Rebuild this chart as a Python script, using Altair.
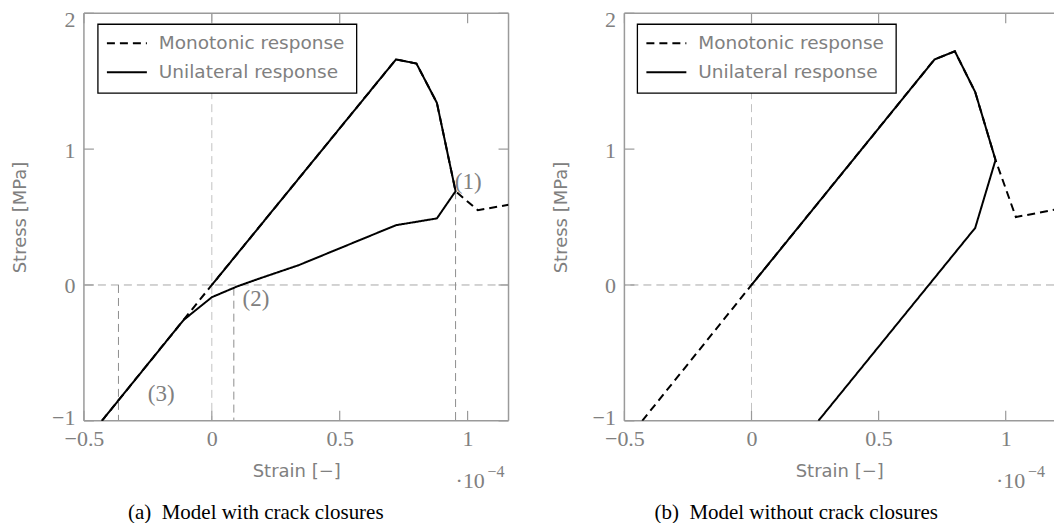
import altair as alt
import pandas as pd

# ---------------- data ----------------
series_names = ["Monotonic response", "Unilateral response"]

# panel (a): model with crack closures
a_mono_x = [-0.43, 0.0, 0.72, 0.80, 0.88, 0.953, 1.04, 1.16]
a_mono_y = [-1.0, 0.0, 1.66, 1.63, 1.34, 0.69, 0.55, 0.59]
a_uni_x = [0.0, 0.72, 0.80, 0.88, 0.953, 0.88, 0.72, 0.34, 0.19, 0.10, 0.0, -0.11, -0.43]
a_uni_y = [0.0, 1.66, 1.63, 1.34, 0.69, 0.49, 0.44, 0.146, 0.05, -0.01, -0.09, -0.257, -1.0]
a_guide_x = [-0.365, 0.086, 0.953]
a_guide_top = [0.0, -0.02, 0.69]
a_note_x = [0.95, 0.12, -0.25]
a_note_y = [0.76, -0.10, -0.80]
a_note_text = ["(1)", "(2)", "(3)"]

# panel (b): model without crack closures
b_mono_x = [-0.43, 0.0, 0.72, 0.80, 0.88, 0.96, 1.04, 1.19]
b_mono_y = [-1.0, 0.0, 1.66, 1.72, 1.42, 0.92, 0.50, 0.553]
b_uni_x = [0.0, 0.72, 0.80, 0.88, 0.96, 0.88, 0.263]
b_uni_y = [0.0, 1.66, 1.72, 1.42, 0.92, 0.42, -1.0]

x_ticks = [-0.5, 0, 0.5, 1]
y_ticks = [-1, 0, 1, 2]
x_title = "Strain [−]"
y_title = "Stress [MPa]"
exp_base = "·10"
exp_power = "−4"
caption_a = "(a)\u2002Model with crack closures"
caption_b = "(b)\u2002Model without crack closures"

# ---------------- styling ----------------
H = 408
SERIF = "Liberation Serif"
SANS = "DejaVu Sans"
GRAY = "#808080"
FRAME = "#9a9a9a"

X_AXIS = alt.Axis(
    values=x_ticks, format="~g", ticks=False, domain=False, grid=False,
    labelFlush=False, labelFont=SERIF, labelFontSize=22, labelColor=GRAY,
    labelPadding=8,
    title=x_title, titleFont=SANS, titleFontSize=18, titleColor=GRAY,
    titleFontWeight="normal", titleY=51, titleBaseline="middle")
Y_AXIS = alt.Axis(
    values=y_ticks, format="~g", ticks=False, domain=False, grid=False,
    labelFlush=False, labelFont=SERIF, labelFontSize=22, labelColor=GRAY,
    labelPadding=9,
    labelOffset={"expr": "datum.value == 2 ? 6 : (datum.value == -1 ? -3 : 1)"},
    title=y_title, titleFont=SANS, titleFontSize=18, titleColor=GRAY,
    titleFontWeight="normal", titleX=-63, titleY=H / 2, titleBaseline="middle")


def panel(mono_x, mono_y, uni_x, uni_y, xmax, W, caption, right_side, lx,
          guides=None, notes=None):
    xs = alt.Scale(domain=[-0.5, xmax], nice=False, zero=False)
    ys = alt.Scale(domain=[-1, 2], nice=False, zero=False)

    def X(f):
        return alt.X(f, type="quantitative", scale=xs, axis=X_AXIS)

    def Y(f):
        return alt.Y(f, type="quantitative", scale=ys, axis=Y_AXIS)

    one = pd.DataFrame({"k": [0]})
    rows = []
    for i, (x, y) in enumerate(zip(mono_x, mono_y)):
        rows.append({"series": series_names[0], "i": i, "x": x, "y": y})
    for i, (x, y) in enumerate(zip(uni_x, uni_y)):
        rows.append({"series": series_names[1], "i": i, "x": x, "y": y})
    curves = pd.DataFrame(rows)

    layers = []
    # reference lines x = 0 and y = 0
    layers.append(alt.Chart(pd.DataFrame({"x": [0]})).mark_rule(
        color="#c2c2c2", strokeDash=[8, 5], strokeWidth=1).encode(x=X("x:Q")))
    layers.append(alt.Chart(pd.DataFrame({"y": [0]})).mark_rule(
        color="#a8a8a8", strokeDash=[8, 5], strokeWidth=1).encode(y=Y("y:Q")))
    if guides is not None:
        gx, gtop = guides
        gdf = pd.DataFrame({"x": gx, "y": gtop, "y2": [-1] * len(gx)})
        layers.append(alt.Chart(gdf).mark_rule(
            color="#8e8e8e", strokeDash=[8, 5], strokeWidth=1).encode(
            x=X("x:Q"), y=Y("y:Q"), y2="y2:Q"))

    # frame
    fr = dict(color=FRAME, strokeWidth=1.5)
    layers.append(alt.Chart(one).mark_rule(**fr).encode(
        x=alt.value(0), y=alt.value(0), y2=alt.value(H)))
    layers.append(alt.Chart(one).mark_rule(**fr).encode(
        x=alt.value(0), x2=alt.value(W), y=alt.value(0)))
    layers.append(alt.Chart(one).mark_rule(**fr).encode(
        x=alt.value(0), x2=alt.value(W), y=alt.value(H)))
    if right_side:
        layers.append(alt.Chart(one).mark_rule(**fr).encode(
            x=alt.value(W), y=alt.value(0), y2=alt.value(H)))

    # inward ticks
    xt = pd.DataFrame({"x": x_ticks})
    yt = pd.DataFrame({"y": y_ticks})
    tk = dict(color=FRAME, strokeWidth=1.2)
    layers.append(alt.Chart(xt).mark_rule(**tk).encode(
        x=X("x:Q"), y=alt.value(H), y2=alt.value(H - 10)))
    layers.append(alt.Chart(xt).mark_rule(**tk).encode(
        x=X("x:Q"), y=alt.value(0), y2=alt.value(10)))
    layers.append(alt.Chart(yt).mark_rule(**tk).encode(
        y=Y("y:Q"), x=alt.value(0), x2=alt.value(10)))
    if right_side:
        layers.append(alt.Chart(yt).mark_rule(**tk).encode(
            y=Y("y:Q"), x=alt.value(W - 10), x2=alt.value(W)))

    # curves
    line = alt.Chart(curves).mark_line(color="black", strokeWidth=2, clip=True).encode(
        x=X("x:Q"),
        y=Y("y:Q"),
        strokeDash=alt.StrokeDash("series:N", scale=alt.Scale(
            domain=series_names, range=[[8, 5], [1, 0]]), legend=None),
        order="i:Q",
    )
    layers.append(line)

    if notes is not None:
        nx, ny, nt = notes
        ndf = pd.DataFrame({"x": nx, "y": ny, "t": nt})
        layers.append(alt.Chart(ndf).mark_text(
            font=SERIF, fontSize=23, color=GRAY, align="left",
            baseline="middle").encode(x=X("x:Q"), y=Y("y:Q"), text="t:N"))

    # legend box
    layers.append(alt.Chart(one).mark_rect(
        fill="white", stroke="black", strokeWidth=1.3).encode(
        x=alt.value(lx), x2=alt.value(lx + 259), y=alt.value(11), y2=alt.value(80)))
    dashes = [[8, 5], [1, 0]]
    for k, name in enumerate(series_names):
        yy = 30 + 29 * k
        layers.append(alt.Chart(one).mark_rule(
            color="black", strokeWidth=2, strokeDash=dashes[k]).encode(
            x=alt.value(lx + 9), x2=alt.value(lx + 49), y=alt.value(yy)))
        layers.append(alt.Chart(pd.DataFrame({"t": [name]})).mark_text(
            font=SANS, fontSize=18.5, color=GRAY, align="left",
            baseline="middle").encode(
            x=alt.value(lx + 61), y=alt.value(yy), text="t:N"))

    # exponent of the x axis
    layers.append(alt.Chart(pd.DataFrame({"t": [exp_base]})).mark_text(
        font=SERIF, fontSize=22, color=GRAY, align="left", baseline="middle").encode(
        x=alt.value(372), y=alt.value(H + 60), text="t:N"))
    layers.append(alt.Chart(pd.DataFrame({"t": [exp_power]})).mark_text(
        font=SERIF, fontSize=16, color=GRAY, align="left", baseline="middle").encode(
        x=alt.value(404), y=alt.value(H + 51), text="t:N"))

    # caption
    layers.append(alt.Chart(pd.DataFrame({"t": [caption]})).mark_text(
        font=SERIF, fontSize=21, color="black", align="center",
        baseline="alphabetic").encode(
        x=alt.value(172), y=alt.value(H + 98), text="t:N"))

    return alt.layer(*layers).properties(width=W, height=H)


pa = panel(a_mono_x, a_mono_y, a_uni_x, a_uni_y, 1.16, 425, caption_a, True, 14,
           guides=(a_guide_x, a_guide_top), notes=(a_note_x, a_note_y, a_note_text))
pb = panel(b_mono_x, b_mono_y, b_uni_x, b_uni_y, 1.19, 430, caption_b, False, 13)

chart = alt.hconcat(pa, pb, spacing=116, bounds="flush").resolve_scale(
    strokeDash="independent").configure_view(
    stroke=None).properties(padding={"left": 4, "top": 0, "right": 0, "bottom": 0},
                            background="white")

chart.save("out.html", embed_options={"renderer": "svg", "actions": False})
